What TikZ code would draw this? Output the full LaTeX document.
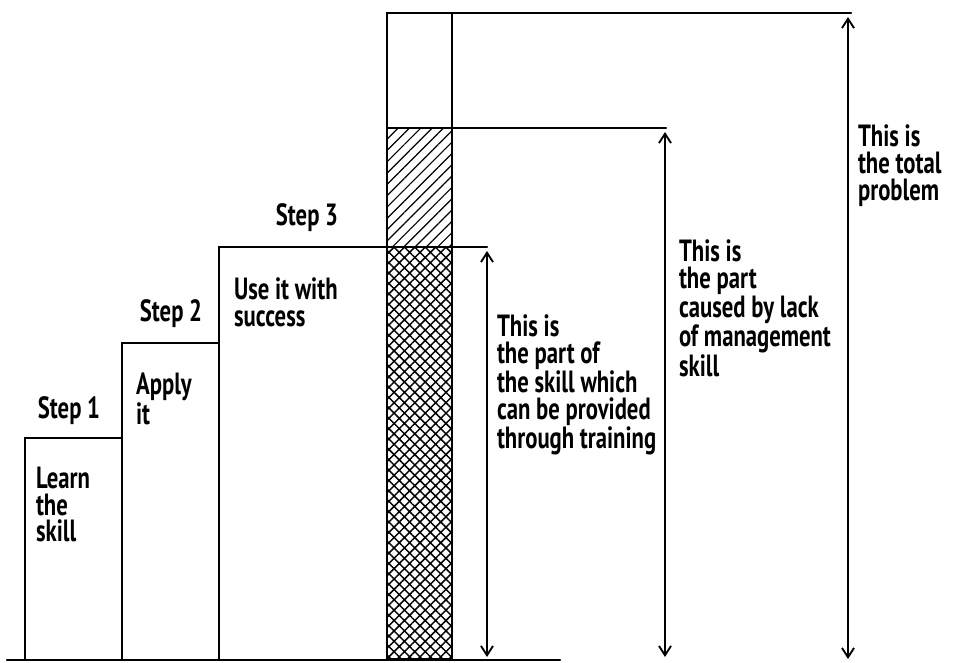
\documentclass[tikz,border=0pt]{standalone}
\usepackage{fontspec}
\setmainfont{PT Sans}[FakeStretch=0.74]
\usetikzlibrary{arrows.meta,patterns.meta}

\begin{document}
\begin{tikzpicture}[x=0.75pt, y=-0.75pt, line width=1.6pt, line cap=round,
	>={Straight Barb[length=7pt,width=9pt,line width=1.4pt]},
	lbl/.style={anchor=north west, align=left, inner sep=0pt, font=\bfseries\fontsize{23}{20}\selectfont},
	steplbl/.style={inner sep=0pt, font=\bfseries\fontsize{23}{20}\selectfont}]
	\useasboundingbox (0,0) rectangle (957,662);
	\coordinate (base) at (7,660);
	\coordinate (top) at (387,13);
	\coordinate (mid) at (452,128);
	\coordinate (lev) at (219,247);
	\draw (25,659) -- (25,438) -- (122,438) -- (122,659);
	\draw (122,438) -- (122,343) -- (219,343) -- (219,659);
	\draw (219,343) -- (lev) -- (487,247);
	\draw[pattern={Hatch[angle=45,distance=5.5pt,line width=1.1pt]}] (387,659) rectangle (452,247);
	\draw[pattern={Lines[angle=45,distance=6pt,line width=0.9pt]}] (387,247) rectangle (mid);
	\draw (387,128) rectangle (452,13);
	\draw (mid) -- (666,128);
	\draw (top) -- (851,13);
	\draw (base) -- (560,660);
	\draw[<->] (487,251) -- (487,657);
	\draw[<->] (665,132) -- (665,657);
	\draw[<->] (848,17) -- (848,659);
	\node[steplbl] (s1) at (69,411) {Step 1};
	\node[steplbl] (s2) at (171,314) {Step 2};
	\node[steplbl] (s3) at (307,218) {Step 3};
	\node[lbl] (learn) at (35,466) {Learn\\the\\skill};
	\node[lbl] (apply) at (135,372) {Apply\\it};
	\node[lbl] (use) at (233,277) {Use it with\\success};
	\node[lbl] (train) at (496,314) {This is\\the part of\\the skill which\\can be provided\\through training};
	\node[lbl] (mgmt) at (678,239) {This is\\the part\\caused by lack\\of management\\skill};
	\node[lbl] (total) at (857,124) {This is\\the total\\problem};
\end{tikzpicture}
\end{document}
